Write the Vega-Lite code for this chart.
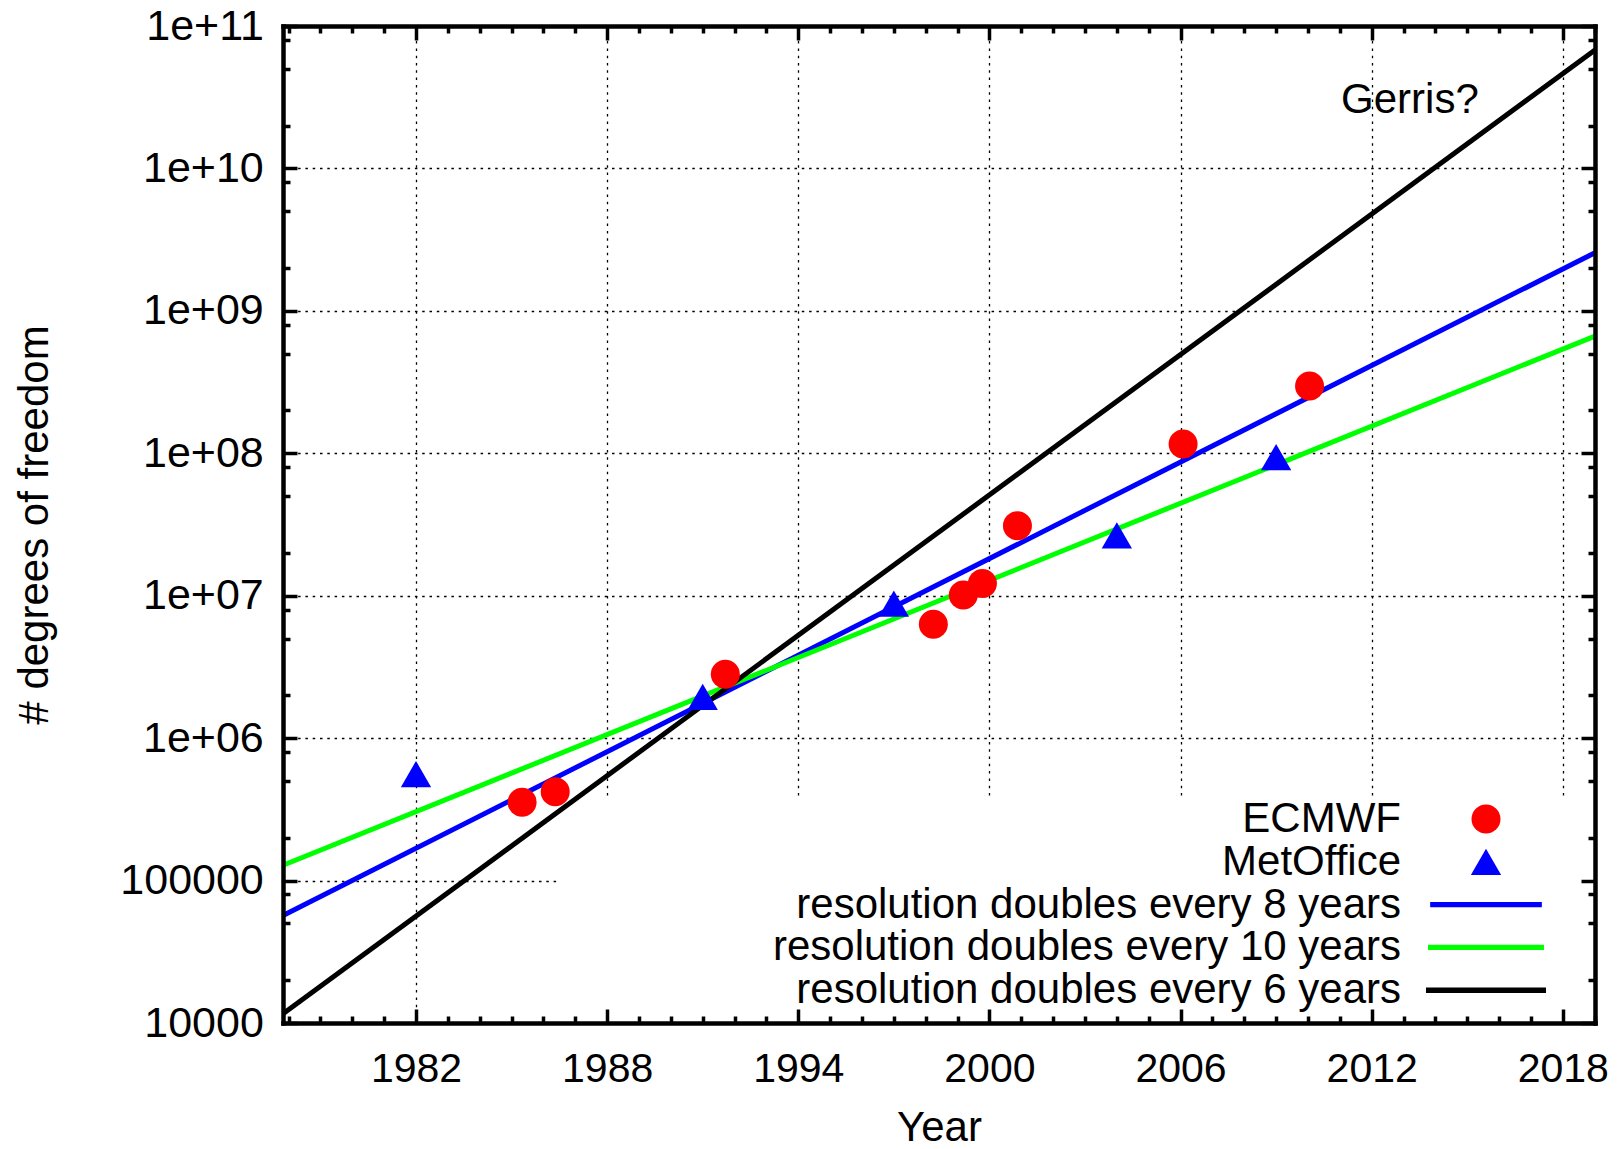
{
  "$schema": "https://vega.github.io/schema/vega-lite/v6.json",
  "width": 1312,
  "height": 997,
  "autosize": {"type": "none"},
  "padding": {"left": 283, "top": 26, "right": 24, "bottom": 126},
  "background": "white",
  "config": {
    "view": {"stroke": null},
    "font": "Liberation Sans",
    "axis": {
      "labelFont": "Liberation Sans",
      "titleFont": "Liberation Sans",
      "labelColor": "black",
      "titleColor": "black",
      "titleFontWeight": "normal",
      "domainColor": "black",
      "tickColor": "black",
      "labelFontSize": 41,
      "titleFontSize": 42
    }
  },
  "datasets": {
    "points": [
      {"series": "ECMWF", "year": 1985.33, "dof": 355000},
      {"series": "ECMWF", "year": 1986.37, "dof": 421000},
      {"series": "ECMWF", "year": 1991.71, "dof": 2810000},
      {"series": "ECMWF", "year": 1998.24, "dof": 6300000},
      {"series": "ECMWF", "year": 1999.18, "dof": 10100000},
      {"series": "ECMWF", "year": 1999.78, "dof": 12200000},
      {"series": "ECMWF", "year": 2000.88, "dof": 31000000},
      {"series": "ECMWF", "year": 2006.08, "dof": 116000000},
      {"series": "ECMWF", "year": 2010.05, "dof": 297000000},
      {"series": "MetOffice", "year": 1982.0, "dof": 560000},
      {"series": "MetOffice", "year": 1991.0, "dof": 1950000},
      {"series": "MetOffice", "year": 1997.0, "dof": 8800000},
      {"series": "MetOffice", "year": 2004.0, "dof": 26500000},
      {"series": "MetOffice", "year": 2009.0, "dof": 94000000}
    ],
    "lines": [
      {"series": "resolution doubles every 8 years", "year": 1977.825, "dof": 56900},
      {"series": "resolution doubles every 8 years", "year": 2019.01, "dof": 2560000000},
      {"series": "resolution doubles every 10 years", "year": 1977.825, "dof": 128000},
      {"series": "resolution doubles every 10 years", "year": 2019.01, "dof": 665000000},
      {"series": "resolution doubles every 6 years", "year": 1977.825, "dof": 11600},
      {"series": "resolution doubles every 6 years", "year": 2019.01, "dof": 67800000000}
    ],
    "notes": [
      {"label": "Gerris?", "year": 2013.2, "dof": 24500000000}
    ]
  },
  "layer": [
    {
      "data": {"values": [{}]},
      "mark": {"type": "rect", "fill": "white", "strokeWidth": 0},
      "encoding": {
        "x": {
          "datum": 1986.52, "type": "quantitative",
          "scale": {"domain": [1977.825, 2019.01], "nice": false, "zero": false},
          "axis": {"orient": "bottom", "values": [1982, 1988, 1994, 2000, 2006, 2012, 2018], "grid": true, "gridColor": "black", "gridDash": [2.5, 4.8], "gridWidth": 1.3, "ticks": false, "labels": false, "domain": false, "title": null, "zindex": 0}
        },
        "x2": {"datum": 2018.85},
        "y": {
          "datum": 10000, "type": "quantitative",
          "scale": {"type": "log", "domain": [10000, 100000000000], "nice": false},
          "axis": {"orient": "left", "values": [100000, 1000000, 10000000, 100000000, 1000000000, 10000000000], "grid": true, "gridColor": "black", "gridDash": [2.5, 4.8], "gridWidth": 1.3, "ticks": false, "labels": false, "domain": false, "title": null, "zindex": 0}
        },
        "y2": {"datum": 386000}
      }
    },
    {
      "data": {"name": "lines"},
      "mark": {"type": "line", "strokeWidth": 5},
      "encoding": {
        "x": {
          "field": "year", "type": "quantitative",
          "scale": {"domain": [1977.825, 2019.01], "nice": false, "zero": false},
          "axis": {
            "orient": "top",
            "values": [1978,1979,1980,1981,1982,1983,1984,1985,1986,1987,1988,1989,1990,1991,1992,1993,1994,1995,1996,1997,1998,1999,2000,2001,2002,2003,2004,2005,2006,2007,2008,2009,2010,2011,2012,2013,2014,2015,2016,2017,2018,2019],
            "grid": false, "labels": false, "domain": true, "domainWidth": 4.5, "domainCap": "square",
            "tickSize": {"condition": {"test": "datum.value % 6 === 2", "value": -14}, "value": -7},
            "tickWidth": 3.5, "title": null, "zindex": 1
          }
        },
        "y": {
          "field": "dof", "type": "quantitative",
          "scale": {"type": "log", "domain": [10000, 100000000000], "nice": false},
          "axis": {
            "orient": "right",
            "values": [10000,20000,50000,80000,100000,200000,500000,800000,1000000,2000000,5000000,8000000,10000000,20000000,50000000,80000000,100000000,200000000,500000000,800000000,1000000000,2000000000,5000000000,8000000000,10000000000,20000000000,50000000000,80000000000,100000000000],
            "grid": false, "labels": false, "domain": true, "domainWidth": 4.5, "domainCap": "square",
            "tickSize": {"condition": {"test": "abs(log(datum.value)/LN10 - round(log(datum.value)/LN10)) < 0.001", "value": -14}, "value": -7},
            "tickWidth": 3.5, "title": null, "zindex": 1
          }
        },
        "stroke": {
          "field": "series", "type": "nominal",
          "scale": {
            "domain": ["resolution doubles every 8 years", "resolution doubles every 10 years", "resolution doubles every 6 years"],
            "range": ["#0000ff", "#00ff00", "#000000"]
          },
          "legend": null
        },
        "detail": {"field": "series"}
      }
    },
    {
      "data": {"name": "points"},
      "mark": {"type": "point", "filled": true, "opacity": 1, "strokeWidth": 0},
      "encoding": {
        "x": {
          "field": "year", "type": "quantitative",
          "scale": {"domain": [1977.825, 2019.01], "nice": false, "zero": false},
          "axis": {
            "orient": "bottom",
            "values": [1978,1979,1980,1981,1982,1983,1984,1985,1986,1987,1988,1989,1990,1991,1992,1993,1994,1995,1996,1997,1998,1999,2000,2001,2002,2003,2004,2005,2006,2007,2008,2009,2010,2011,2012,2013,2014,2015,2016,2017,2018,2019],
            "grid": false, "domain": true, "domainWidth": 4.5, "domainCap": "square",
            "tickSize": {"condition": {"test": "datum.value % 6 === 2", "value": -14}, "value": -7},
            "tickWidth": 3.5,
            "labelExpr": "datum.value % 6 === 2 ? '' + datum.value : ''",
            "labelPadding": 72.7, "labelBaseline": "alphabetic", "labelOverlap": false, "labelFlush": false,
            "title": "Year", "titleX": 656, "titleY": 117, "titleBaseline": "alphabetic", "titleAlign": "center",
            "zindex": 1
          }
        },
        "y": {
          "field": "dof", "type": "quantitative",
          "scale": {"type": "log", "domain": [10000, 100000000000], "nice": false},
          "axis": {
            "orient": "left",
            "values": [10000,20000,50000,80000,100000,200000,500000,800000,1000000,2000000,5000000,8000000,10000000,20000000,50000000,80000000,100000000,200000000,500000000,800000000,1000000000,2000000000,5000000000,8000000000,10000000000,20000000000,50000000000,80000000000,100000000000],
            "grid": false, "domain": true, "domainWidth": 4.5, "domainCap": "square",
            "tickSize": {"condition": {"test": "abs(log(datum.value)/LN10 - round(log(datum.value)/LN10)) < 0.001", "value": -14}, "value": -7},
            "tickWidth": 3.5,
            "labelExpr": "abs(log(datum.value)/LN10 - round(log(datum.value)/LN10)) < 0.001 ? (datum.value >= 1000000 ? '1e+' + (round(log(datum.value)/LN10) < 10 ? '0' : '') + round(log(datum.value)/LN10) : '' + round(datum.value)) : ''",
            "labelPadding": 33.7, "labelBaseline": "middle", "labelAlign": "right", "labelOverlap": false, "labelFlush": false, "labelFontSize": 43,
            "title": "# degrees of freedom", "titleX": -235.2, "titleY": 498.5, "titleAngle": -90, "titleBaseline": "alphabetic", "titleAlign": "center",
            "zindex": 1
          }
        },
        "size": {
          "field": "series", "type": "nominal",
          "scale": {
            "domain": ["ECMWF", "MetOffice", "resolution doubles every 8 years", "resolution doubles every 10 years", "resolution doubles every 6 years"],
            "range": [841, 1150, 841, 841, 841]
          },
          "legend": null
        },
        "color": {
          "field": "series", "type": "nominal",
          "scale": {
            "domain": ["ECMWF", "MetOffice", "resolution doubles every 8 years", "resolution doubles every 10 years", "resolution doubles every 6 years"],
            "range": ["#ff0000", "#0000ff", "#0000ff", "#00ff00", "#000000"]
          },
          "legend": {
            "orient": "none", "legendX": 1182, "legendY": 772, "title": null, "padding": 0, "offset": 0,
            "labelFont": "Liberation Sans", "labelFontSize": 42, "labelColor": "black", "labelAlign": "right", "labelBaseline": "middle",
            "labelOffset": -106, "labelLimit": 2000, "symbolSize": 841, "symbolStrokeWidth": 0, "symbolOpacity": 1, "rowPadding": 0.8, "direction": "vertical"
          }
        },
        "shape": {
          "field": "series", "type": "nominal",
          "scale": {
            "domain": ["ECMWF", "MetOffice", "resolution doubles every 8 years", "resolution doubles every 10 years", "resolution doubles every 6 years"],
            "range": ["circle", "triangle-up", "M-3.54,-0.165L3.54,-0.165L3.54,0.165L-3.54,0.165Z", "M-3.54,-0.165L3.54,-0.165L3.54,0.165L-3.54,0.165Z", "M-3.54,-0.165L3.54,-0.165L3.54,0.165L-3.54,0.165Z"]
          },
          "legend": {
            "orient": "none", "legendX": 1182, "legendY": 772, "title": null, "padding": 0, "offset": 0,
            "labelFont": "Liberation Sans", "labelFontSize": 42, "labelColor": "black", "labelAlign": "right", "labelBaseline": "middle",
            "labelOffset": -106, "labelLimit": 2000, "symbolSize": 841, "symbolStrokeWidth": 0, "symbolOpacity": 1, "rowPadding": 0.8, "direction": "vertical"
          }
        }
      }
    },
    {
      "data": {"name": "notes"},
      "mark": {"type": "text", "font": "Liberation Sans", "fontSize": 42, "align": "center", "baseline": "alphabetic", "color": "black"},
      "encoding": {
        "x": {"field": "year", "type": "quantitative", "scale": {"domain": [1977.825, 2019.01], "nice": false, "zero": false}, "axis": null},
        "y": {"field": "dof", "type": "quantitative", "scale": {"type": "log", "domain": [10000, 100000000000], "nice": false}, "axis": null},
        "text": {"field": "label"}
      }
    }
  ],
  "resolve": {"axis": {"x": "independent", "y": "independent"}}
}
